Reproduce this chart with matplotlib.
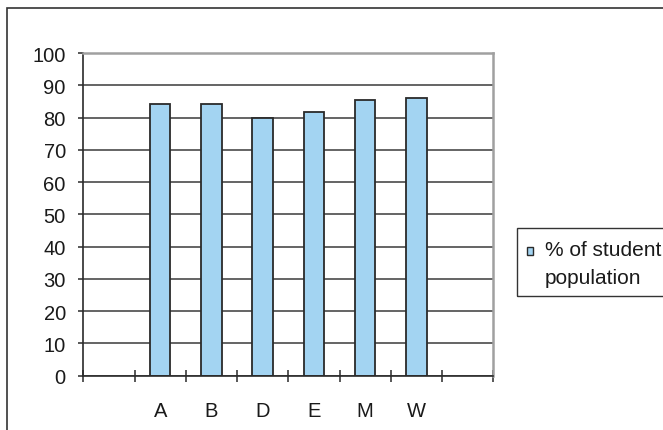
import numpy as np
import matplotlib
matplotlib.use("Agg")
import matplotlib.pyplot as plt
from matplotlib.patches import Rectangle

plt.rcParams["font.family"] = ["Liberation Sans", "DejaVu Sans"]

# Share of the student population per group (blank slots at both ends)
categories = ["", "A", "B", "D", "E", "M", "W", ""]
percent = [np.nan, 84.3, 84.3, 80.0, 81.8, 85.5, 86.1, np.nan]
series_name = "% of student\npopulation"
y_ticks = list(range(0, 101, 10))

bar_color = "#a3d4f2"
edge_color = "#2a2a2a"
text_color = "#1a1a1a"

W, H = 663, 431
fig = plt.figure(figsize=(W / 100, H / 100), dpi=100)

# chart area frame
fig.add_artist(Rectangle((7 / W, -0.2), 1.2, (H - 9) / H + 0.2, transform=fig.transFigure,
                         fill=False, edgecolor="#333333", lw=1.2))

ax = fig.add_axes([83.3 / W, (H - 376.7) / H, 410 / W, 322.7 / H])

x = np.arange(len(categories))
ax.bar(x, percent, width=0.4, color=bar_color, edgecolor=edge_color, linewidth=1.3, zorder=3)

ax.set_xlim(-0.5, len(categories) - 0.5)
ax.set_ylim(0, 100)
ax.set_yticks(y_ticks)
ax.yaxis.grid(True, color="#3a3a3a", linewidth=1.1)
ax.set_axisbelow(True)

ax.set_xticks(x)
ax.set_xticklabels(categories)
ax.set_xticks(np.arange(len(categories) + 1) - 0.5, minor=True)
ax.tick_params(axis="x", which="major", length=0, pad=18.5, labelsize=14.5, labelcolor=text_color)
ax.tick_params(axis="x", which="minor", direction="inout", length=8, width=1.1, color=edge_color)
ax.tick_params(axis="y", direction="out", length=3.6, width=1.1, pad=9, labelsize=14.5,
               labelcolor=text_color, color=edge_color)

for side in ("left", "bottom"):
    ax.spines[side].set_color(edge_color)
    ax.spines[side].set_linewidth(1.2)
    ax.spines[side].set_zorder(4)
for side in ("top", "right"):
    ax.spines[side].set_color("#a0a0a0")
    ax.spines[side].set_linewidth(1.8)
    ax.spines[side].set_zorder(4)

# legend box, running off the right edge
fig.add_artist(Rectangle((516.7 / W, (H - 296.7) / H), 0.5, 67.4 / H, transform=fig.transFigure,
                         fill=False, edgecolor="#333333", lw=1.0))
fig.add_artist(Rectangle((526.7 / W, (H - 255.5) / H), 6.5 / W, 7.5 / H, transform=fig.transFigure,
                         facecolor=bar_color, edgecolor=edge_color, lw=1.0))
fig.text(545 / W, (H - 284) / H, series_name, ha="left", va="baseline",
         fontsize=15, linespacing=1.6, color=text_color)

fig.savefig("out.png", dpi=100)
